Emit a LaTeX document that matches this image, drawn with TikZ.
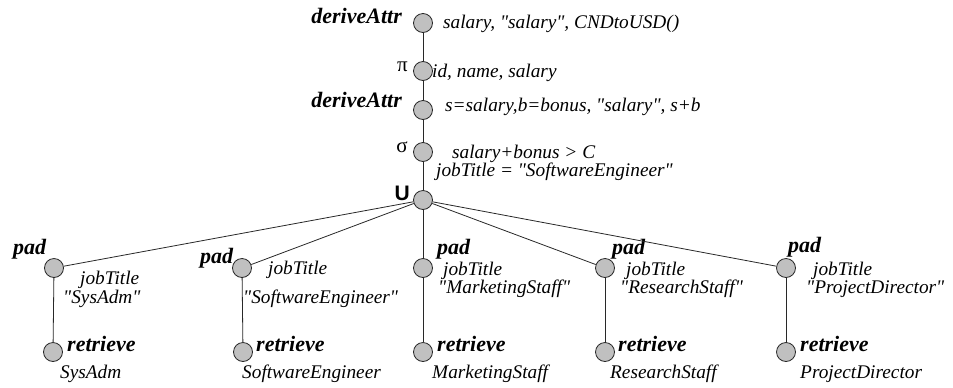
\documentclass[tikz,border=0pt]{standalone}
\usepackage{fontspec}
\setmainfont{Liberation Serif}[Ligatures=TeXOff]
\newfontfamily\helv{Liberation Sans}
\definecolor{nodegray}{RGB}{192,192,192}
\definecolor{edgecol}{RGB}{40,40,40}
\begin{document}
\begin{tikzpicture}[x=1bp,y=-1bp,
  op/.style={circle, draw=edgecol, fill=nodegray, minimum size=19bp, inner sep=0pt, line width=0.8bp},
  lbl/.style={font=\fontsize{19.3bp}{22bp}\selectfont\itshape, inner sep=0pt},
  opname/.style={font=\fontsize{22bp}{26bp}\selectfont\bfseries\itshape, inner sep=0pt},
  greek/.style={font=\fontsize{21bp}{24bp}\selectfont, inner sep=0pt},
  conn/.style={draw=edgecol, line width=0.8bp}]
\useasboundingbox (0,0) rectangle (953,387);
% central column
\node[op] (c1) at (423,23) {};
\node[op] (c2) at (423,71) {};
\node[op] (c3) at (423,110) {};
\node[op] (c4) at (423,152) {};
\node[op] (u)  at (423,200) {};
\node[opname, anchor=base east] (t1) at (402,23) {deriveAttr};
\node[lbl, anchor=base west] (l1) at (443,28) {salary, "salary", CNDtoUSD()};
\node[greek, anchor=base east] (t2) at (408,71) {π};
\node[lbl, anchor=base west] (l2) at (432,77) {id, name, salary};
\node[opname, anchor=base east] (t3) at (402,107) {deriveAttr};
\node[lbl, anchor=base west] (l3) at (445,111) {s=salary,b=bonus, "salary", s+b};
\node[greek, anchor=base east] (t4) at (408,152) {σ};
\node[lbl, anchor=base west] (l4a) at (452,158) {salary+bonus > C};
\node[lbl, anchor=base west] (l4b) at (436,176) {jobTitle = "SoftwareEngineer"};
\node[font=\fontsize{21bp}{24bp}\selectfont\helv\bfseries, inner sep=0pt, anchor=base east] (tu) at (410,200) {U};
% pad nodes
\node[op] (p1) at (54,268) {};
\node[op] (p2) at (242,268) {};
\node[op] (p3) at (423,268) {};
\node[op] (p4) at (605,268) {};
\node[op] (p5) at (786,268) {};
% retrieve nodes
\node[op] (r1) at (53,352) {};
\node[op] (r2) at (243,352) {};
\node[op] (r3) at (423,352) {};
\node[op] (r4) at (605,352) {};
\node[op] (r5) at (786,352) {};
% pad labels
\node[opname, anchor=base west] (pt1) at (13,254) {pad};
\node[opname, anchor=base west] (pt2) at (200,263) {pad};
\node[opname, anchor=base west] (pt3) at (437,254) {pad};
\node[opname, anchor=base west] (pt4) at (612,254) {pad};
\node[opname, anchor=base west] (pt5) at (788,252) {pad};
\node[lbl, anchor=base west] (pj1) at (80,284) {jobTitle};
\node[lbl, anchor=base west] (pv1) at (63,303) {"SysAdm"};
\node[lbl, anchor=base west] (pj2) at (268,274) {jobTitle};
\node[lbl, anchor=base west] (pv2) at (243,303) {"SoftwareEngineer"};
\node[lbl, anchor=base west] (pj3) at (443,275) {jobTitle};
\node[lbl, anchor=base west] (pv3) at (438,293) {"MarketingStaff"};
\node[lbl, anchor=base west] (pj4) at (626,275) {jobTitle};
\node[lbl, anchor=base west] (pv4) at (620,293) {"ResearchStaff"};
\node[lbl, anchor=base west] (pj5) at (813,275) {jobTitle};
\node[lbl, anchor=base west] (pv5) at (806,293) {"ProjectDirector"};
% retrieve labels
\node[opname, anchor=base west] (rt1) at (67,351) {retrieve};
\node[opname, anchor=base west] (rt2) at (256,351) {retrieve};
\node[opname, anchor=base west] (rt3) at (437,351) {retrieve};
\node[opname, anchor=base west] (rt4) at (618,351) {retrieve};
\node[opname, anchor=base west] (rt5) at (800,351) {retrieve};
\node[lbl, anchor=base west] (rn1) at (60,378) {SysAdm};
\node[lbl, anchor=base west] (rn2) at (242,378) {SoftwareEngineer};
\node[lbl, anchor=base west] (rn3) at (432,378) {MarketingStaff};
\node[lbl, anchor=base west] (rn4) at (610,378) {ResearchStaff};
\node[lbl, anchor=base west] (rn5) at (800,378) {ProjectDirector};
% connectors
\draw[conn] (c1) -- (c2) -- (c3) -- (c4) -- (u);
\foreach \i in {1,...,5} {
  \draw[conn] (u) -- (p\i);
  \draw[conn] (p\i) -- (r\i);
}
\end{tikzpicture}
\end{document}
